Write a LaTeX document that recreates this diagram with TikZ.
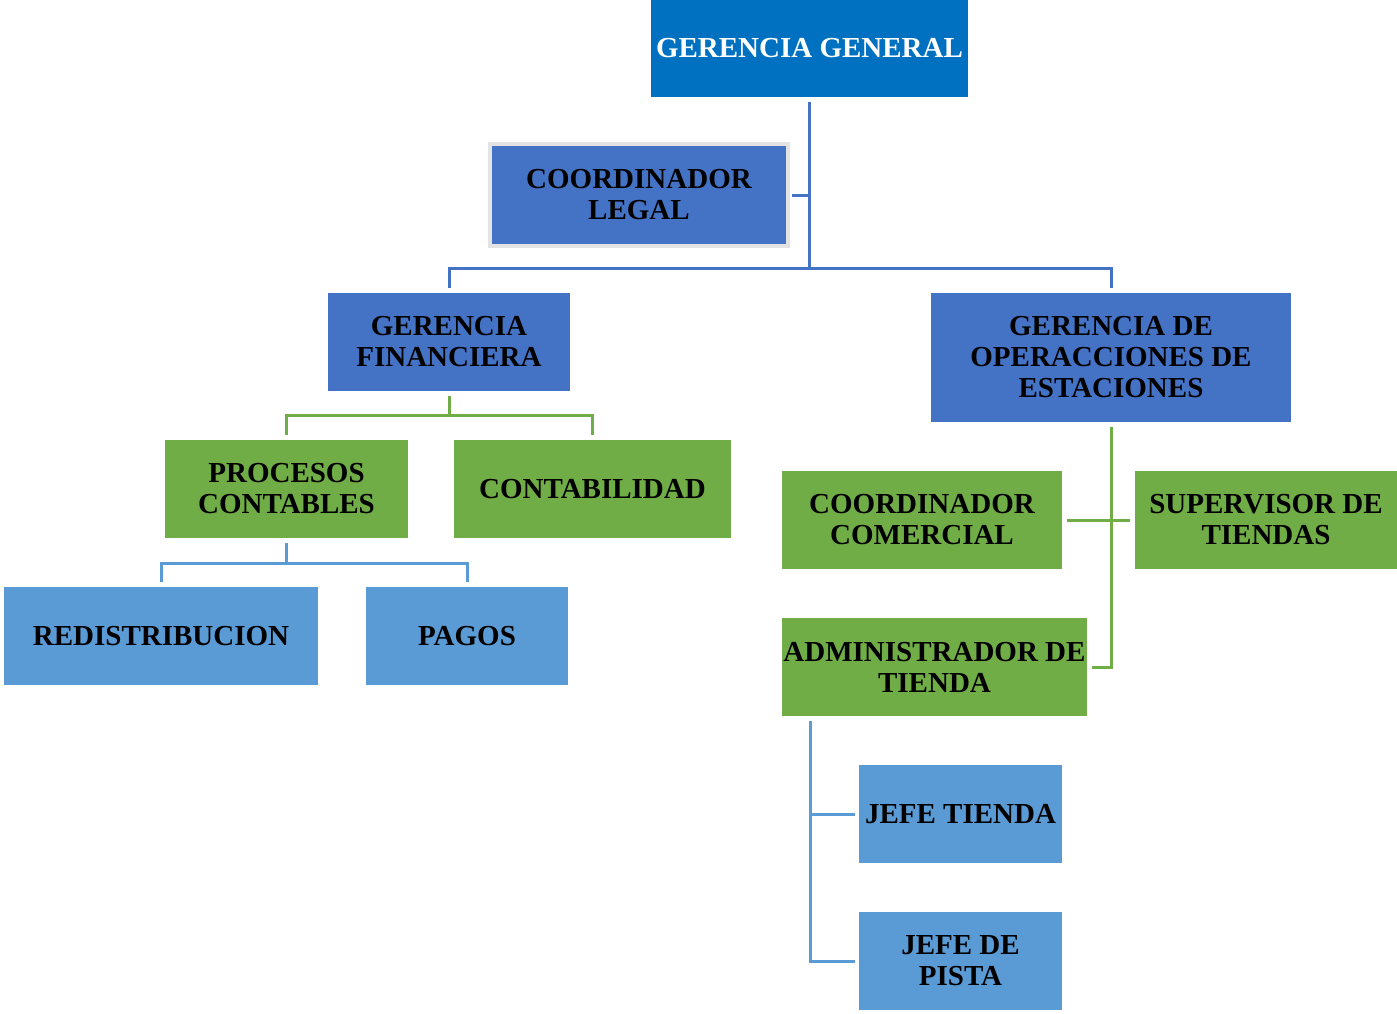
\documentclass[tikz,border=0pt]{standalone}
\usepackage{fontspec}
\setmainfont{Liberation Serif}
\definecolor{gblue}{HTML}{0070C0}
\definecolor{dblue}{HTML}{4472C4}
\definecolor{ggreen}{HTML}{70AD47}
\definecolor{lblue}{HTML}{5B9BD5}
\definecolor{lgray}{HTML}{E3E3E3}
\tikzset{
  box/.style={rectangle, inner sep=0pt, align=center,
    font=\fontsize{29}{31}\selectfont\bfseries, text=black},
  topbox/.style={box, fill=gblue, text=white},
  bluebox/.style={box, fill=dblue},
  greenbox/.style={box, fill=ggreen},
  lightbox/.style={box, fill=lblue},
  conn/.style={line width=3pt},
  cblue/.style={conn, draw=dblue},
  cgreen/.style={conn, draw=ggreen},
  clight/.style={conn, draw=lblue}
}
\begin{document}
\begin{tikzpicture}[x=1pt,y=-1pt]
\useasboundingbox (0,0) rectangle (1397,1013);
% nodes
\node[topbox, minimum width=317pt, minimum height=97pt] (gg) at (809.5,48.5) {GERENCIA GENERAL};
\node[bluebox, draw=lgray, line width=4pt, minimum width=298pt, minimum height=102pt] (cl) at (639,195) {COORDINADOR\\LEGAL};
\node[bluebox, minimum width=242pt, minimum height=98pt] (gf) at (449,342) {GERENCIA\\FINANCIERA};
\node[bluebox, minimum width=360pt, minimum height=129pt] (goe) at (1111,357.5) {GERENCIA DE\\OPERACCIONES DE\\ESTACIONES};
\node[greenbox, minimum width=243pt, minimum height=98pt] (pc) at (286.5,489) {PROCESOS\\CONTABLES};
\node[greenbox, minimum width=277pt, minimum height=98pt] (cont) at (592.5,489) {CONTABILIDAD};
\node[lightbox, minimum width=314pt, minimum height=98pt] (red) at (161,636) {REDISTRIBUCION};
\node[lightbox, minimum width=202pt, minimum height=98pt] (pag) at (467,636) {PAGOS};
\node[greenbox, minimum width=280pt, minimum height=98pt] (cc) at (922,520) {COORDINADOR\\COMERCIAL};
\node[greenbox, minimum width=262pt, minimum height=98pt] (sup) at (1266,520) {SUPERVISOR DE\\TIENDAS};
\node[greenbox, minimum width=305pt, minimum height=98pt] (adm) at (934.5,667) {ADMINISTRADOR DE\\TIENDA};
\node[lightbox, minimum width=203pt, minimum height=98pt] (jt) at (960.5,814) {JEFE TIENDA};
\node[lightbox, minimum width=203pt, minimum height=98pt] (jp) at (960.5,961) {JEFE DE\\PISTA};
% connectors: top level
\coordinate (bus1) at (809.5,268);
\draw[cblue] ([yshift=-5pt]gg.south) -- (bus1);
\draw[cblue] ([yshift=5pt]gf.north) |- (bus1) -| ([yshift=5pt]goe.north);
\draw[cblue] ([xshift=2pt]cl.east) -- (cl.east -| bus1);
% financiera
\coordinate (bus2) at (449,415);
\draw[cgreen] ([yshift=-5pt]gf.south) -- (bus2);
\draw[cgreen] ([yshift=5pt]pc.north) |- (bus2) -| ([yshift=5pt]cont.north);
% procesos contables
\coordinate (bus3) at (286.5,563);
\draw[clight] ([yshift=-5pt]pc.south) -- (bus3);
\draw[clight] ([yshift=5pt]red.north) |- (bus3) -| ([yshift=5pt]pag.north);
% operaciones
\draw[cgreen] ([yshift=-5pt]goe.south) |- ([xshift=5pt]adm.east);
\draw[cgreen] ([xshift=5pt]cc.east) -- ([xshift=-5pt]sup.west);
% administrador
\coordinate (bus4) at (810,721);
\draw[clight] (bus4) |- ([xshift=-4pt]jp.west);
\draw[clight] (bus4 |- jt.west) -- ([xshift=-4pt]jt.west);
\end{tikzpicture}
\end{document}
